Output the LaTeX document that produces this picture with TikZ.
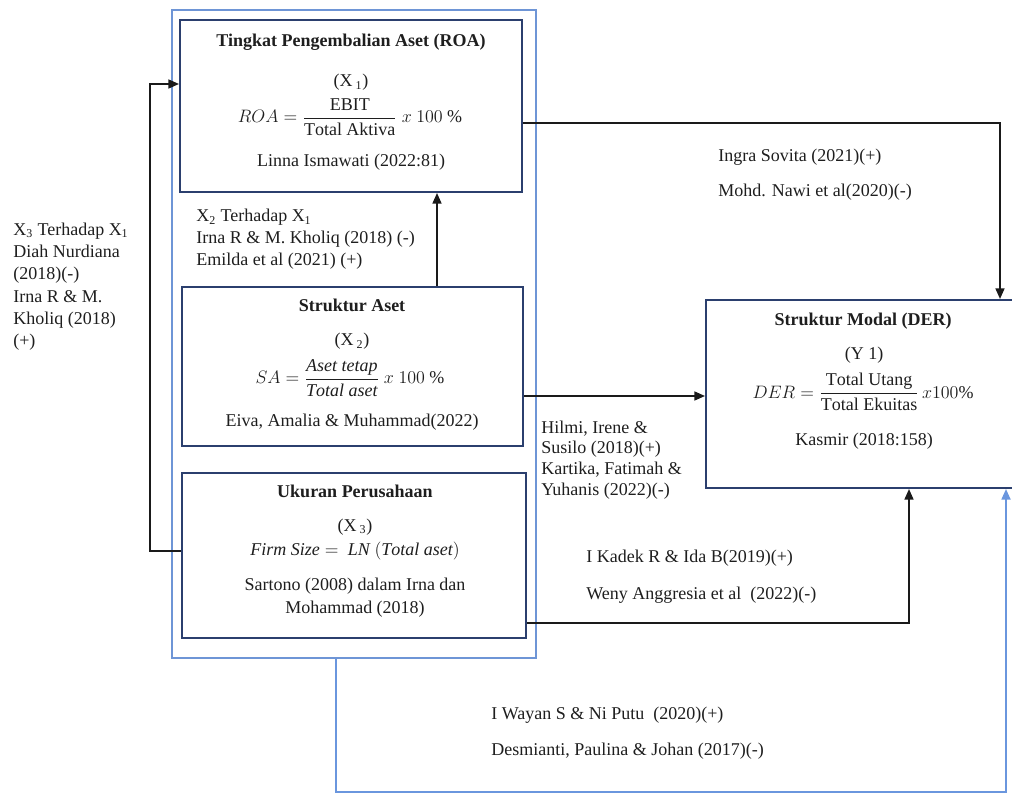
\documentclass[tikz,border=0pt,12pt]{standalone}
\usepackage{amsmath}
\usepackage{fontspec}
\setmainfont{Liberation Serif}
\usetikzlibrary{arrows.meta,fit}
\definecolor{navy}{HTML}{2B3F6E}
\definecolor{lightblue}{HTML}{6E95D6}
\definecolor{bluec}{HTML}{6A96DE}
\definecolor{linec}{HTML}{1A1A1A}
\definecolor{textc}{HTML}{1E1E1E}
\tikzset{
  box/.style={draw=navy, line width=1.4pt, inner sep=0pt},
  outerbox/.style={draw=lightblue, line width=1pt, inner sep=0pt},
  conn/.style={draw=linec, line width=0.9pt, -{Triangle[length=7pt,width=6pt]}},
  bconn/.style={draw=bluec, line width=1.1pt, -{Triangle[length=7pt,width=6pt]}},
  txt/.style={inner sep=0pt, text=textc, font=\fontsize{12}{14.9}\selectfont},
  ttl/.style={inner sep=0pt, text=textc, font=\fontsize{12}{14.9}\selectfont\bfseries},
}
\begin{document}
\begin{tikzpicture}[x=0.6667pt,y=-0.6667pt]
\useasboundingbox (0,0) rectangle (1012,794);
% boxes
\node[outerbox, fit={(172,10) (536,658)}] (outer) {};
\node[box, fit={(180,20) (522,192)}] (ROA) {};
\node[box, fit={(182,287) (523,446)}] (SA) {};
\node[box, fit={(182,473) (526,638)}] (UP) {};
\node[box, fit={(706,300) (1016,488)}] (DER) {};
% ROA content
\node[ttl, anchor=base] (roaT) at (351,47) {Tingkat Pengembalian Aset (ROA)};
\node[txt, anchor=base] (roaX) at (351,87) {(X\,\textsubscript{1})};
\node[txt, anchor=center] (roaF) at (350,117) {$ROA = \dfrac{\mathrm{EBIT}}{\mathrm{Total\ Aktiva}}\ x\ 100\ \%$};
\node[txt, anchor=base] (roaR) at (351,167) {Linna Ismawati (2022:81)};
% SA content
\node[ttl, anchor=base] (saT) at (352,312) {Struktur Aset};
\node[txt, anchor=base] (saX) at (352,346) {(X\,\textsubscript{2})};
\node[txt, anchor=center] (saF) at (350,378) {$SA = \dfrac{\mathit{Aset\ tetap}}{\mathit{Total\ aset}}\ x\ 100\ \%$};
\node[txt, anchor=base] (saR) at (352,426) {Eiva, Amalia \& Muhammad(2022)};
% UP content
\node[ttl, anchor=base] (upT) at (355,497) {Ukuran Perusahaan};
\node[txt, anchor=base] (upX) at (355,531) {(X\,\textsubscript{3})};
\node[txt, anchor=base] (upF) at (355,555) {$\mathit{Firm\ Size} =\ \mathit{LN}\ (\mathit{Total\ aset})$};
\node[txt, anchor=base, align=center] (upR) at (355,613) {Sartono (2008) dalam Irna dan\\Mohammad (2018)};
% DER content
\node[ttl, anchor=base] (derT) at (863,326) {Struktur Modal (DER)};
\node[txt, anchor=base] (derX) at (864,360) {(Y 1)};
\node[txt, anchor=center] (derF) at (863,392) {$DER = \dfrac{\mathrm{Total\ Utang}}{\mathrm{Total\ Ekuitas}}\,x100\%$};
\node[txt, anchor=base] (derR) at (864,445) {Kasmir (2018:158)};
% side labels
\node[txt, anchor=base west, align=left] (lblL) at (13,347) {X\textsubscript{3} Terhadap X\textsubscript{1}\\Diah Nurdiana\\(2018)(-)\\Irna R \& M.\\Kholiq (2018)\\(+)};
\node[txt, anchor=base west, align=left] (lblX2) at (196,266) {X\textsubscript{2} Terhadap X\textsubscript{1}\\Irna R \& M. Kholiq (2018) (-)\\Emilda et al (2021) (+)};
\node[txt, anchor=base west] (lblI1) at (718,162) {Ingra Sovita (2021)(+)};
\node[txt, anchor=base west] (lblI2) at (718,197) {Mohd. Nawi et al(2020)(-)};
\node[txt, anchor=base west, align=left, font=\fontsize{12}{13.7}\selectfont] (lblH) at (541,495) {Hilmi, Irene \&\\Susilo (2018)(+)\\Kartika, Fatimah \&\\Yuhanis (2022)(-)};
\node[txt, anchor=base west] (lblK1) at (586,562) {I Kadek R \& Ida B(2019)(+)};
\node[txt, anchor=base west] (lblK2) at (586,599) {Weny Anggresia et al\ \ (2022)(-)};
\node[txt, anchor=base west] (lblW1) at (491,719) {I Wayan S \& Ni Putu\ \ (2020)(+)};
\node[txt, anchor=base west] (lblW2) at (491,755) {Desmianti, Paulina \& Johan (2017)(-)};
% connectors
\draw[conn] (ROA.east |- 0,123) -| (DER.north -| 1000,0);
\draw[conn] (SA.north -| 437,0) -- (ROA.south -| 437,0);
\draw[conn] (SA.east |- 0,396) -- (DER.west |- 0,396);
\draw[conn] (UP.west |- 0,551) -- (150,551) -- (150,84) -- (ROA.west |- 0,84);
\draw[conn] (UP.east |- 0,623) -| (DER.south -| 909,0);
\draw[bconn] (outer.south -| 336,0) -- (336,792) -| (DER.south -| 1006,0);
\end{tikzpicture}
\end{document}
